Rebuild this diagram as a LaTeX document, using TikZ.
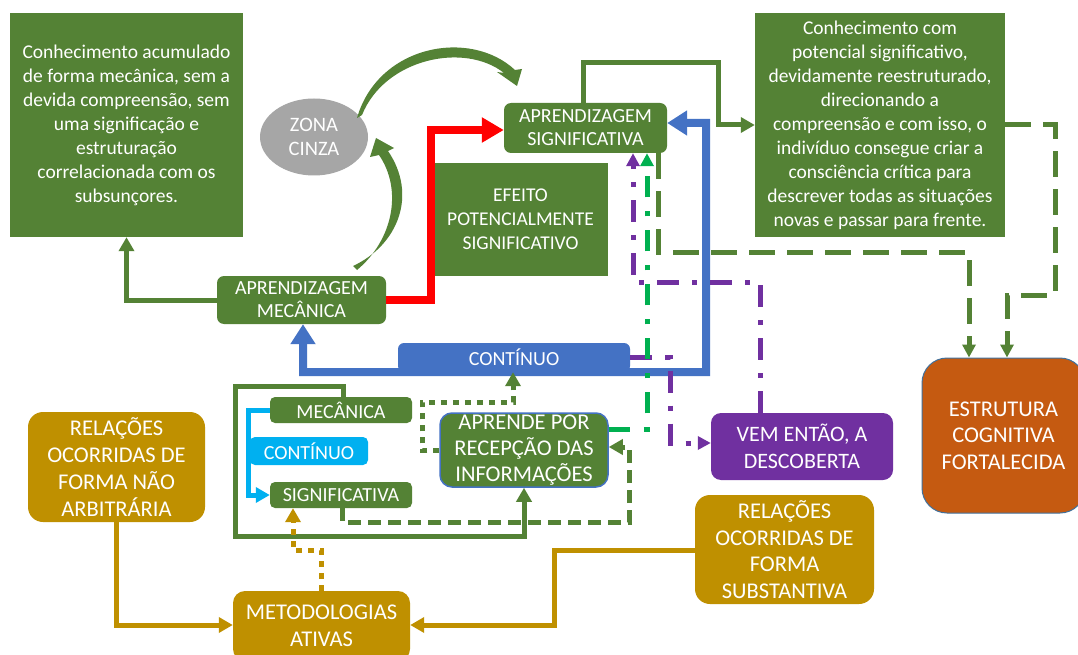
\documentclass[tikz,border=0pt]{standalone}
\usepackage{fontspec}
\setmainfont{Carlito}
\usetikzlibrary{arrows.meta,shapes.geometric}
\definecolor{gr}{HTML}{548235}
\definecolor{bl}{HTML}{4472C4}
\definecolor{lb}{HTML}{00B0F0}
\definecolor{pu}{HTML}{7030A0}
\definecolor{go}{HTML}{BF9000}
\definecolor{orr}{HTML}{C55A11}
\definecolor{gy}{HTML}{A6A6A6}
\definecolor{bg}{HTML}{00B050}
\definecolor{rd}{HTML}{FF0000}
\definecolor{eb}{HTML}{41719C}
\tikzset{
  box/.style={draw=none, text=white, align=center, inner sep=0pt, font=\fontsize{20}{23}\selectfont},
  fA/.style={font=\fontsize{19.5}{24}\selectfont},
  fB/.style={font=\fontsize{22.5}{26.7}\selectfont},
  tipA/.style={-{Triangle[length=14pt,width=15pt]}},
  tipS/.style={-{Triangle[length=13pt,width=13pt]}},
  gline/.style={draw=gr, line width=5pt},
  gdash/.style={draw=gr, line width=5pt, dash pattern=on 26pt off 12pt},
  gdashs/.style={draw=gr, line width=5pt, dash pattern=on 13pt off 7pt},
  gdot/.style={draw=gr, line width=5pt, dash pattern=on 6pt off 6pt},
  pdash/.style={draw=pu, line width=5pt, dash pattern=on 22pt off 13pt on 5pt off 13pt},
  bdash/.style={draw=bg, line width=5pt, dash pattern=on 21pt off 14pt on 5pt off 14pt},
  goline/.style={draw=go, line width=5pt},
  godot/.style={draw=go, line width=5pt, dash pattern=on 6pt off 6pt},
}
\begin{document}
\begin{tikzpicture}[x=1pt,y=-1pt]
\useasboundingbox[fill=white] (0,0) rectangle (1078,655);

% nodes
\node[box, fA, fill=gr, minimum width=233pt, minimum height=224pt] (tl) at (126.5,125)
  {Conhecimento acumulado\\de forma mecânica, sem a\\devida compreensão, sem\\uma significação e\\estruturação\\correlacionada com os\\subsunçores.};
\node[box, ellipse, fill=gy, minimum width=108pt, minimum height=77pt, font=\fontsize{20.5}{24}\selectfont] (zona) at (314,137) {ZONA\\CINZA};
\node[box, fill=gr, rounded corners=7pt, minimum width=163pt, minimum height=50pt] (asig) at (585.5,128) {APRENDIZAGEM\\SIGNIFICATIVA};
\node[box, fA, fill=gr, minimum width=175pt, minimum height=113pt] (efeito) at (520.5,219.5) {EFEITO\\POTENCIALMENTE\\SIGNIFICATIVO};
\node[box, fA, fill=gr, minimum width=250pt, minimum height=224pt] (tr) at (880,125)
  {Conhecimento com\\potencial significativo,\\devidamente reestruturado,\\direcionando a\\compreensão e com isso, o\\indivíduo consegue criar a\\consciência crítica para\\descrever todas as situações\\novas e passar para frente.};
\node[box, fill=gr, rounded corners=7pt, minimum width=169pt, minimum height=48pt] (amec) at (301.5,300) {APRENDIZAGEM\\MECÂNICA};
\node[box, fill=gr, rounded corners=5pt, minimum width=142pt, minimum height=26pt] (mec) at (341,410) {MECÂNICA};
\node[box, fill=lb, rounded corners=5pt, minimum width=118pt, minimum height=28pt] (contl) at (309,451) {CONTÍNUO};
\node[box, fill=gr, rounded corners=5pt, minimum width=142pt, minimum height=26pt] (signif) at (341,495) {SIGNIFICATIVA};
\node[box, fill=gr, draw=bl, line width=1.5pt, rounded corners=12pt, minimum width=168pt, minimum height=74pt, font=\fontsize{22.5}{26}\selectfont] (aprende) at (524,450) {APRENDE POR\\RECEPÇÃO DAS\\INFORMAÇÕES};
\node[box, fB, fill=go, rounded corners=15pt, minimum width=177pt, minimum height=110pt] (naoarb) at (116.5,467) {RELAÇÕES\\OCORRIDAS DE\\FORMA NÃO\\ARBITRÁRIA};
\node[box, fB, fill=go, rounded corners=12pt, minimum width=177pt, minimum height=70pt] (metod) at (321.5,626) {METODOLOGIAS\\ATIVAS};
\node[box, fB, fill=go, rounded corners=15pt, minimum width=179pt, minimum height=109pt] (subst) at (784.5,549.5) {RELAÇÕES\\OCORRIDAS DE\\FORMA\\SUBSTANTIVA};
\node[box, fill=pu, rounded corners=10pt, minimum width=182pt, minimum height=67pt, font=\fontsize{22}{27}\selectfont] (vem) at (802,446.5) {VEM ENTÃO, A\\DESCOBERTA};
\node[box, fill=orr, draw=eb, line width=1pt, rounded corners=25pt, minimum width=163pt, minimum height=155pt, font=\fontsize{22.5}{26.7}\selectfont] (estr) at (1003.5,435.5) {ESTRUTURA\\COGNITIVA\\FORTALECIDA};

% blue continuous path
\draw[line width=8pt, bl, {Triangle[length=20pt,width=24pt]}-{Triangle[length=20pt,width=24pt]}]
  ([xshift=1.5pt]amec.south) -- ++(0,48) -- (706,372) -- (706,123) -- ([yshift=5pt]asig.east);
\node[box, fill=bl, rounded corners=6pt, minimum width=232pt, minimum height=29pt] (cont) at (514,357.5) {CONTÍNUO};

% connectors
\draw[gline, tipA] (amec.west) -| (tl.south);
\draw[line width=8pt, rd, -{Triangle[length=22pt,width=24pt]}] (amec.east) -- ++(45,0) |- ([yshift=-2pt]asig.west);
\draw[gline, tipA] ([xshift=-2.5pt]asig.north) |- (718,63) |- (tr.west);
\draw[gdash, tipS] ([xshift=72.5pt]asig.south) -- (658,252) -| ([xshift=-34.5pt]estr.north);
\draw[gdash, tipS] (tr.east) -- (1055,125) |- (1007,295) -- ([xshift=3.5pt]estr.north);
\draw[pdash, tipS] ([xshift=-42pt]vem.north) |- (633,282) -- ([xshift=47.5pt]asig.south);
\draw[pdash, tipS] (cont.east) -- (670,357.5) |- ([yshift=3.5pt]vem.west);
\draw[bdash, tipS] ([yshift=21pt]aprende.east) -| ([xshift=61.5pt]asig.south);
\draw[gline, tipA] ([xshift=2pt]mec.north) -- ++(0,-10) -| (235,536) -| (aprende.south);
\draw[draw=lb, line width=5pt, tipA] (mec.west) -- (248,410) |- (signif.west);
\draw[gdot, tipA] (aprende.west) -- (422,450) |- (513,402) -- ([xshift=-1pt]cont.south);
\draw[gdashs, tipA] ([xshift=1pt]signif.south) -- ++(0,14) -| (629,447) -- ([yshift=3pt]aprende.east);
\draw[godot, tipA] ([xshift=-0.5pt]metod.north) |- (293,550) -- ([xshift=-48pt]signif.south);
\draw[goline, tipA] (naoarb.south) |- ([yshift=1pt]metod.west);
\draw[goline, tipA] ([yshift=-0.5pt]subst.west) -- (554,550) |- ([yshift=1pt]metod.east);

% curved tapered arrows
\fill[gr] (357,118) .. controls (378,45) and (470,28) .. (515,70) -- (522,69) -- (517,86) -- (497,72) -- (504,73)
  .. controls (465,42) and (385,58) .. (362,115) -- cycle;
\fill[gr] (353,266) .. controls (398,245) and (418,195) .. (388,151) -- (394,148) -- (376,138) -- (370,157) -- (379,155)
  .. controls (403,190) and (393,240) .. (357,270) -- cycle;
\end{tikzpicture}
\end{document}
